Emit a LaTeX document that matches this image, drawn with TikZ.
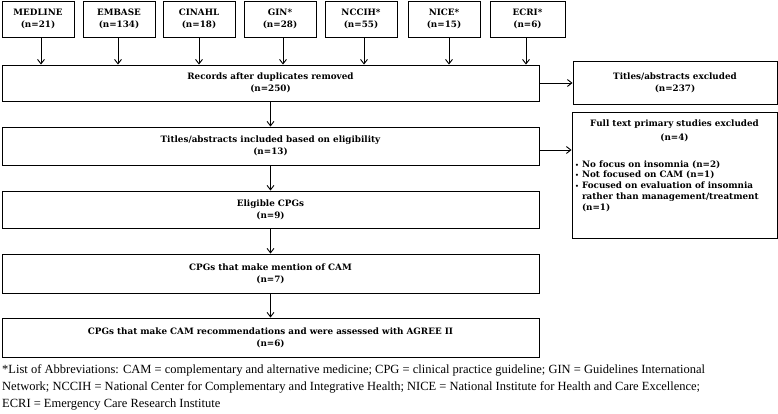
\documentclass[tikz,border=0pt]{standalone}
\usepackage{fontspec}
\setmainfont{Liberation Serif}
\newfontfamily\boxfont{DejaVu Serif}
\usetikzlibrary{arrows.meta}
\begin{document}
\begin{tikzpicture}[x=1pt,y=-1pt,
  box/.style={draw, line width=0.9pt, inner sep=0pt, align=center,
    font=\boxfont\bfseries\fontsize{8.8}{12}\selectfont},
  src/.style={box, minimum width=72pt, minimum height=36pt},
  wide/.style={box, minimum width=537pt},
  arr/.style={-{Straight Barb[length=4.5pt,width=7pt,line width=0.9pt]}, line width=0.9pt}]
\useasboundingbox (0,0) rectangle (778,413);
% sources
\node[src] (medline) at (38,19) {MEDLINE\\(n=21)};
\node[src] (embase) at (119,19) {EMBASE\\(n=134)};
\node[src] (cinahl) at (199,19) {CINAHL\\(n=18)};
\node[src] (gin) at (280,19) {GIN*\\(n=28)};
\node[src] (nccih) at (361,19) {NCCIH*\\(n=55)};
\node[src] (nice) at (444,19) {NICE*\\(n=15)};
\node[src, minimum width=75pt] (ecri) at (527.5,19) {ECRI*\\(n=6)};
% main column
\node[wide, minimum height=36pt] (records) at (270.5,83) {Records after duplicates removed\\(n=250)};
\node[wide, minimum height=38pt] (incl) at (270.5,146) {Titles/abstracts included based on eligibility\\(n=13)};
\node[wide, minimum height=37pt] (elig) at (270.5,209.5) {Eligible CPGs\\(n=9)};
\node[wide, minimum height=39pt] (mention) at (270.5,273.5) {CPGs that make mention of CAM\\(n=7)};
\node[wide, minimum height=39pt] (agree) at (270.5,337.5) {CPGs that make CAM recommendations and were assessed with AGREE II\\(n=6)};
% side boxes
\node[box, minimum width=204pt, minimum height=43pt] (excl) at (675,82.5) {Titles/abstracts excluded\\(n=237)};
\node[box, minimum width=205pt, minimum height=126pt] (full) at (674.5,175) {};
\node[anchor=north, align=center, inner sep=0pt, font=\boxfont\bfseries\fontsize{8.8}{14}\selectfont] (fulltitle) at (674.5,119.5) {Full text primary studies excluded\\(n=4)};
\node[anchor=north west, inner sep=0pt, font=\boxfont\bfseries\fontsize{8.8}{11.3}\selectfont] (fulllist) at (575,159.5)
  {\def\arraystretch{0.95}\begin{tabular}{@{}l@{\hspace{3pt}}l@{}}
   {\fontsize{6}{6}\selectfont\textbullet} & No focus on insomnia (n=2)\\
   {\fontsize{6}{6}\selectfont\textbullet} & Not focused on CAM (n=1)\\
   {\fontsize{6}{6}\selectfont\textbullet} & Focused on evaluation of insomnia\\
   & rather than management/treatment\\
   & (n=1)
  \end{tabular}};
% arrows
\foreach \s/\d in {medline/3,embase/-1,cinahl/0,gin/3,nccih/3,nice/5,ecri/-1.5}
  \draw[arr] ([xshift=\d pt]\s.south) -- ([xshift=\d pt]\s.south |- records.north);
\draw[arr] (records.south) -- (incl.north);
\draw[arr] (incl.south) -- (elig.north);
\draw[arr] (elig.south) -- (mention.north);
\draw[arr] (mention.south) -- (agree.north);
\draw[arr] (records.east) -- (records.east -| excl.west);
\draw[arr] ([yshift=-4pt]incl.east) -- ([yshift=-4pt]incl.east -| full.west);
% footnote
\node[anchor=north west, inner sep=0pt, align=left, font=\fontsize{12.5}{17}\selectfont] (note) at (2,364)
  {*List of Abbreviations: CAM = complementary and alternative medicine; CPG = clinical practice guideline; GIN = Guidelines International\\
   Network; NCCIH = National Center for Complementary and Integrative Health; NICE = National Institute for Health and Care Excellence;\\
   ECRI = Emergency Care Research Institute};
\end{tikzpicture}
\end{document}
